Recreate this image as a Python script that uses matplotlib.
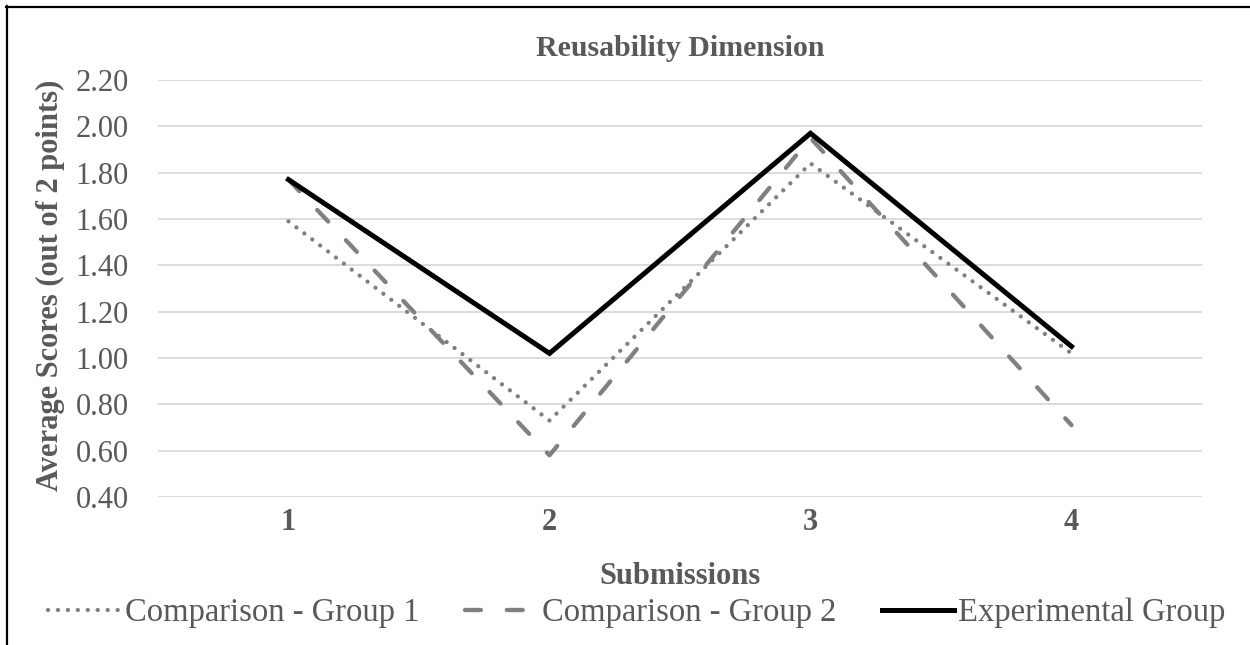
#!/usr/bin/env python3

import matplotlib
matplotlib.use("Agg")
import matplotlib.pyplot as plt
from matplotlib.lines import Line2D

# data
submissions = ["1", "2", "3", "4"]
group1 = [1.59, 0.73, 1.84, 1.02]
group2 = [1.77, 0.58, 1.95, 0.71]
experimental = [1.77, 1.02, 1.97, 1.05]
yticks = [0.4, 0.6, 0.8, 1.0, 1.2, 1.4, 1.6, 1.8, 2.0, 2.2]

plt.rcParams['font.family'] = ['Liberation Serif', 'DejaVu Serif']
txt = '#595959'
grey = '#808080'

W, H = 1250, 645
fig = plt.figure(figsize=(W / 100, H / 100), dpi=100)
ax = fig.add_axes([158 / W, 1 - 497 / H, 1044 / W, 417 / H])

x = list(range(1, len(submissions) + 1))
ax.plot(x, group1, color=grey, linewidth=3.1, linestyle=(0, (0.01, 2.3)),
        dash_capstyle='round', solid_capstyle='round', label="Comparison - Group 1")
ax.plot(x, group2, color=grey, linewidth=3.1, linestyle=(0, (3.7, 6.0)),
        dash_capstyle='round', label="Comparison - Group 2")
ax.plot(x, experimental, color='black', linewidth=3.6, solid_joinstyle='miter',
        label="Experimental Group")

ax.set_xlim(0.5, 4.5)
ax.set_ylim(0.4, 2.2)
ax.set_xticks(x)
ax.set_xticklabels(submissions, fontsize=22, fontweight='bold', color=txt)
ax.set_yticks(yticks)
ax.set_yticklabels(["%.2f" % v for v in yticks], fontsize=22, color=txt)
ax.tick_params(axis='both', length=0)
ax.tick_params(axis='y', pad=21)
ax.tick_params(axis='x', pad=8)
ax.grid(axis='y', color='#D9D9D9', linewidth=1.3)
ax.set_axisbelow(True)
for s in ax.spines.values():
    s.set_visible(False)

fig.text(680 / W, 1 - 48 / H, "Reusability Dimension", fontsize=21.5,
         fontweight='bold', color=txt, ha='center', va='center')
fig.text(680 / W, 1 - 576 / H, "Submissions", fontsize=22,
         fontweight='bold', color=txt, ha='center', va='center')
fig.text(50 / W, 1 - 285 / H, "Average Scores (out of 2 points)", fontsize=22,
         fontweight='bold', color=txt, ha='center', va='center', rotation=90)

leg = fig.legend(loc='center', bbox_to_anchor=(637 / W, 1 - 613 / H), ncol=3,
                 frameon=False, fontsize=23.5, handlelength=2.2,
                 handletextpad=0.15, columnspacing=1.4, borderaxespad=0)
for t in leg.get_texts():
    t.set_color(txt)

# chart border (top and left edges visible)
fig.add_artist(Line2D([6 / W, 1], [1 - 6.5 / H, 1 - 6.5 / H], color='black',
                      linewidth=1.6, transform=fig.transFigure))
fig.add_artist(Line2D([6.5 / W, 6.5 / W], [0, 1 - 6 / H], color='black',
                      linewidth=1.6, transform=fig.transFigure))

plt.savefig('out.png', dpi=100)
